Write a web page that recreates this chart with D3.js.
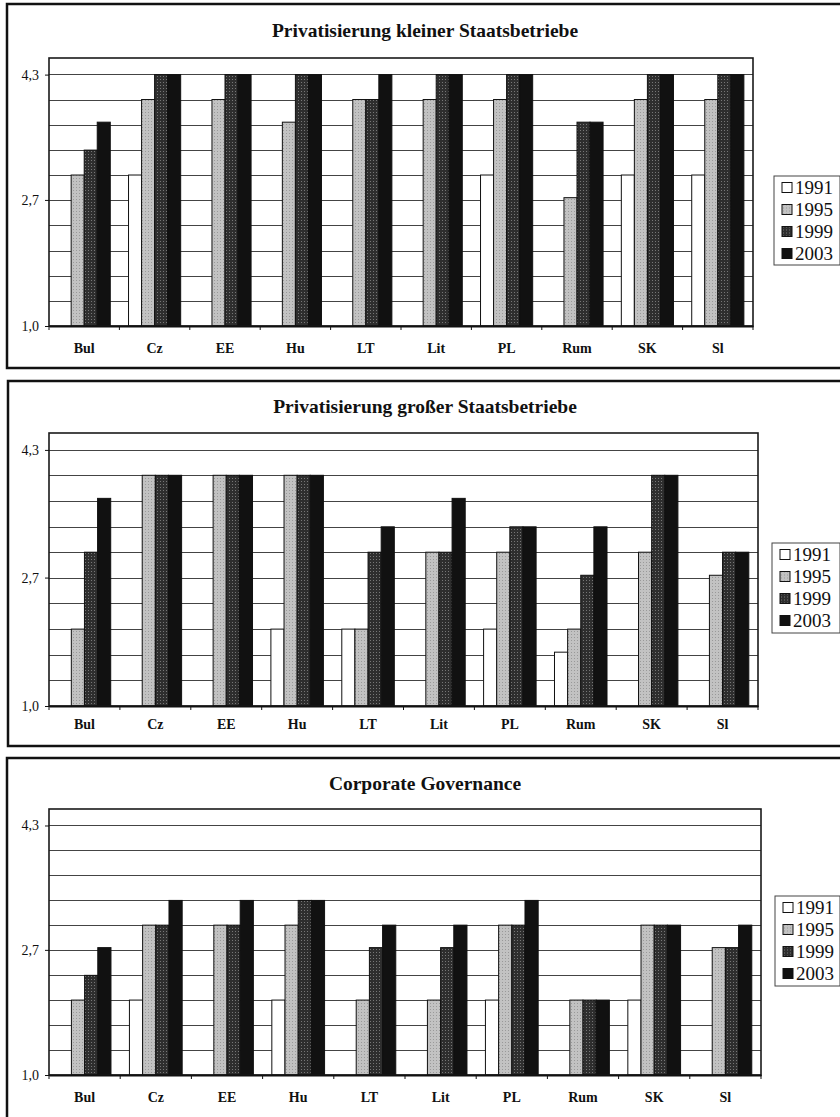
<!DOCTYPE html>
<html><head><meta charset="utf-8">
<script src="https://cdn.jsdelivr.net/npm/d3@7/dist/d3.min.js"></script>
<style>body{margin:0;background:#fff}svg{display:block}</style>
</head><body>
<svg id="c" width="840" height="1117"></svg>
<script>
// ---- data ----
const categories = ["Bul","Cz","EE","Hu","LT","Lit","PL","Rum","SK","Sl"];
const years = ["1991","1995","1999","2003"];
const yTickValues = [1.0, 2.67, 4.33];
const yTickLabels = ["1,0","2,7","4,3"];
const titles = ["Privatisierung kleiner Staatsbetriebe","Privatisierung großer Staatsbetriebe","Corporate Governance"];
// rows: categories; columns: 1991, 1995, 1999, 2003 (null = no bar)
const smallPriv = [
  [null, 3.0, 3.33, 3.7],
  [3.0, 4.0, 4.33, 4.33],
  [null, 4.0, 4.33, 4.33],
  [null, 3.7, 4.33, 4.33],
  [null, 4.0, 4.0, 4.33],
  [null, 4.0, 4.33, 4.33],
  [3.0, 4.0, 4.33, 4.33],
  [null, 2.7, 3.7, 3.7],
  [3.0, 4.0, 4.33, 4.33],
  [3.0, 4.0, 4.33, 4.33]
];
const largePriv = [
  [null, 2.0, 3.0, 3.7],
  [null, 4.0, 4.0, 4.0],
  [null, 4.0, 4.0, 4.0],
  [2.0, 4.0, 4.0, 4.0],
  [2.0, 2.0, 3.0, 3.33],
  [null, 3.0, 3.0, 3.7],
  [2.0, 3.0, 3.33, 3.33],
  [1.7, 2.0, 2.7, 3.33],
  [null, 3.0, 4.0, 4.0],
  [null, 2.7, 3.0, 3.0]
];
const corpGov = [
  [null, 2.0, 2.33, 2.7],
  [2.0, 3.0, 3.0, 3.33],
  [null, 3.0, 3.0, 3.33],
  [2.0, 3.0, 3.33, 3.33],
  [null, 2.0, 2.7, 3.0],
  [null, 2.0, 2.7, 3.0],
  [2.0, 3.0, 3.0, 3.33],
  [null, 2.0, 2.0, 2.0],
  [2.0, 3.0, 3.0, 3.0],
  [null, 2.7, 2.7, 3.0]
];
const panelValues = [smallPriv, largePriv, corpGov];

// ---- layout ----
const layouts = [
  {frame:{x:7,y:4,h:364}, plot:{l:49,r:753,t:58,b:326}, titleY:37, labelY:353, legend:{x:774,y:176,w:66,h:89}},
  {frame:{x:8,y:381,h:365}, plot:{l:49,r:758,t:433,b:706}, titleY:413, labelY:729, legend:{x:772,y:543,w:68,h:90}},
  {frame:{x:7,y:758,h:420}, plot:{l:49,r:761,t:809,b:1075}, titleY:790, labelY:1102, legend:{x:775,y:896,w:65,h:90}}
];
const serif = "'Liberation Serif','Times New Roman',Times,serif";

const svg = d3.select("#c");
const defs = svg.append("defs");
// texture patterns
const p95 = defs.append("pattern").attr("id","p1995").attr("width",3).attr("height",3).attr("patternUnits","userSpaceOnUse");
p95.append("rect").attr("width",3).attr("height",3).attr("fill","#c2c2c2");
p95.append("rect").attr("x",1).attr("y",1).attr("width",1).attr("height",1).attr("fill","#999");
const p99 = defs.append("pattern").attr("id","p1999").attr("width",3).attr("height",3).attr("patternUnits","userSpaceOnUse");
p99.append("rect").attr("width",3).attr("height",3).attr("fill","#2e2e2e");
p99.append("rect").attr("x",1).attr("y",1).attr("width",1).attr("height",1).attr("fill","#777");
const fills = ["#ffffff","url(#p1995)","url(#p1999)","#111111"];

svg.append("rect").attr("width",840).attr("height",1117).attr("fill","#fff");

layouts.forEach((L, pi) => {
  const g = svg.append("g");
  const vals = panelValues[pi];
  // outer frame (runs off the right edge)
  g.append("rect").attr("x",L.frame.x).attr("y",L.frame.y).attr("width",860).attr("height",L.frame.h)
    .attr("fill","none").attr("stroke","#111").attr("stroke-width",2.5);

  g.append("text").attr("x",425).attr("y",L.titleY).attr("text-anchor","middle")
    .attr("font-family",serif).attr("font-weight","bold").attr("font-size",19.5).attr("fill","#111")
    .text(titles[pi]);

  const x = d3.scaleBand().domain(categories).range([L.plot.l, L.plot.r]).padding(0);
  const xi = d3.scaleBand().domain(years).range([0, x.bandwidth()]).paddingInner(0).paddingOuter(0.7);
  const y = d3.scaleLinear().domain([1, 4.55]).range([L.plot.b, L.plot.t]);

  // gridlines at every third
  const grid = d3.range(0, 11).map(k => 1 + k/3);
  g.append("g").selectAll("line").data(grid).join("line")
    .attr("x1",L.plot.l).attr("x2",L.plot.r)
    .attr("y1",d=>Math.round(y(d))+0.5).attr("y2",d=>Math.round(y(d))+0.5)
    .attr("stroke","#444").attr("stroke-width",1);

  // bars
  const rows = [];
  vals.forEach((row, ci) => row.forEach((v, si) => { if (v != null) rows.push({c:categories[ci], s:years[si], si, v}); }));
  g.append("g").selectAll("rect").data(rows).join("rect")
    .attr("x",d=>x(d.c)+xi(d.s))
    .attr("y",d=>y(d.v))
    .attr("width",xi.bandwidth())
    .attr("height",d=>y(1)-y(d.v))
    .attr("fill",d=>fills[d.si])
    .attr("stroke","#111").attr("stroke-width",1);

  // plot border
  g.append("rect").attr("x",L.plot.l).attr("y",L.plot.t)
    .attr("width",L.plot.r-L.plot.l).attr("height",L.plot.b-L.plot.t)
    .attr("fill","none").attr("stroke","#1a1a1a").attr("stroke-width",1.6);

  // x axis
  const xAxis = d3.axisBottom(x).tickSize(0).tickPadding(0);
  const xa = g.append("g").attr("transform",`translate(0,${L.plot.b})`).call(xAxis);
  xa.select(".domain").attr("stroke","#111").attr("stroke-width",2);
  xa.selectAll("text").attr("y",L.labelY-L.plot.b).attr("dy",0)
    .attr("font-family",serif).attr("font-weight","bold").attr("font-size",14).attr("fill","#111");
  // boundary ticks
  const bounds = categories.map(c => x(c)).concat([L.plot.r]);
  g.append("g").selectAll("line").data(bounds).join("line")
    .attr("x1",d=>d).attr("x2",d=>d).attr("y1",L.plot.b).attr("y2",L.plot.b+4)
    .attr("stroke","#111").attr("stroke-width",1);

  // y axis
  const yAxis = d3.axisLeft(y).tickValues(yTickValues).tickFormat((d,i)=>yTickLabels[i]).tickSize(4).tickPadding(6);
  const ya = g.append("g").attr("transform",`translate(${L.plot.l},0)`).call(yAxis);
  ya.select(".domain").remove();
  ya.selectAll("line").attr("stroke","#111");
  ya.selectAll("text").attr("font-family",serif).attr("font-size",14).attr("fill","#111");

  // legend
  const lg = g.append("g").attr("transform",`translate(${L.legend.x},${L.legend.y})`);
  lg.append("rect").attr("width",L.legend.w).attr("height",L.legend.h).attr("fill","#fff")
    .attr("stroke","#444").attr("stroke-width",1);
  const items = lg.selectAll("g").data(years).join("g")
    .attr("transform",(d,i)=>`translate(8,${11.5 + i*22})`);
  items.append("rect").attr("x",0).attr("y",-5).attr("width",10).attr("height",10)
    .attr("fill",(d,i)=>fills[i]).attr("stroke","#111").attr("stroke-width",1);
  items.append("text").attr("x",13).attr("y",6.5).attr("font-family",serif).attr("font-size",19).attr("fill","#111")
    .text(d=>d);
});
</script>
</body></html>
